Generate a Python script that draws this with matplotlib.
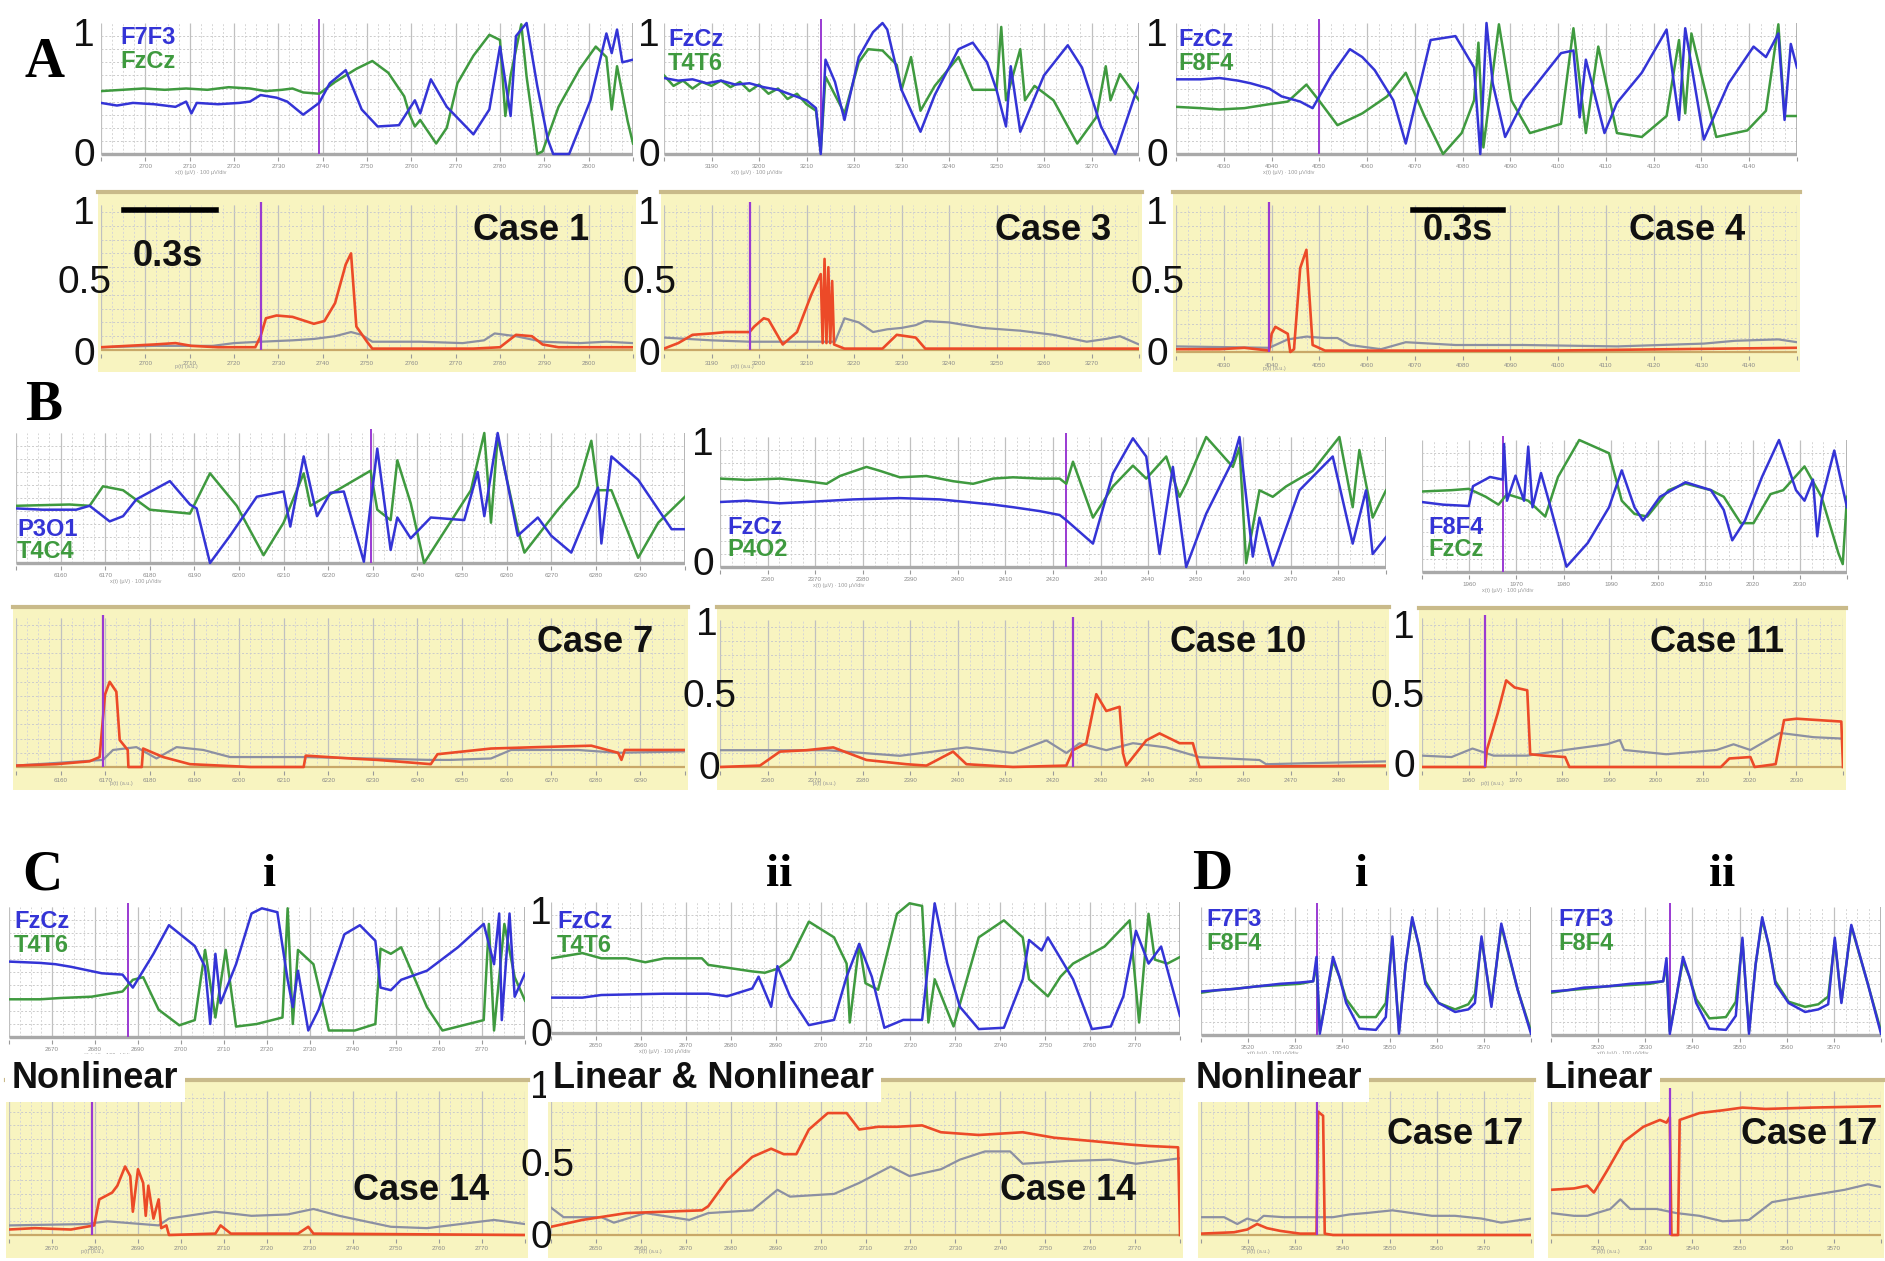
import numpy as np
import matplotlib.pyplot as plt
from matplotlib.lines import Line2D
from matplotlib.patches import Rectangle

# EEG traces: (time in % of the window, normalised amplitude 0..1)
a1_top_blue = [(0, .39), (3, .37), (6, .39), (10, .38), (14, .36), (16, .40), (17, .31), (18, .39), (22, .38),
               (26, .39), (28, .40), (30, .45), (33, .43), (35, .40), (38, .30), (41, .39), (43, .54), (46, .64),
               (49, .34), (52, .21), (56, .22), (59, .41), (60, .31), (62, .57), (65, .36), (70, .15), (73, .34),
               (75, .82), (77, .29), (78, .90), (80, 1.0), (82, .52), (84, .11), (85, 0), (88, 0), (92, .41),
               (95, .92), (96, .77), (97, .95), (98, .70), (100, .72)]
a1_top_green = [(0, .48), (4, .49), (8, .50), (12, .49), (16, .50), (20, .49), (24, .51), (28, .50), (31, .48),
                (34, .49), (36, .50), (38, .47), (41, .46), (44, .55), (48, .65), (51, .71), (54, .62), (57, .44),
                (58, .30), (59, .21), (60, .26), (61, .20), (63, .08), (65, .20), (67, .54), (70, .75), (73, .91),
                (75, .87), (76, .29), (77, .60), (79, .99), (80, .59), (82, 0), (83, .02), (86, .36), (90, .65),
                (93, .82), (95, .74), (96, .34), (97, .67), (99, .25), (100, .08)]
a2_top_blue = [(0, .58), (3, .56), (6, .57), (9, .54), (12, .56), (15, .53), (18, .54), (21, .51), (24, .49),
               (27, .45), (30, .41), (32, .35), (33, 0), (34, .72), (36, .55), (38, .26), (41, .74), (44, .93),
               (46, 1.0), (47, .95), (50, .49), (54, .17), (57, .45), (62, .80), (65, .85), (68, .70), (70, .49),
               (72, .21), (73, .67), (75, .17), (80, .60), (85, .83), (88, .66), (92, .21), (95, 0), (100, .54)]
a2_top_green = [(0, .60), (2, .52), (4, .56), (6, .50), (8, .55), (10, .52), (12, .56), (14, .51), (16, .55),
                (18, .48), (20, .53), (22, .46), (24, .50), (26, .42), (28, .46), (30, .38), (32, .33), (33, .02),
                (34, .59), (36, .45), (38, .31), (41, .70), (43, .80), (46, .79), (49, .68), (50, .49), (52, .74),
                (54, .33), (57, .52), (62, .74), (65, .49), (70, .49), (71, .97), (72, .41), (75, .80), (76, .41),
                (78, .52), (82, .41), (87, .08), (91, .28), (93, .67), (94, .41), (96, .61), (100, .41)]
a3_top_blue = [(0, .57), (4, .57), (7, .58), (10, .56), (12, .54), (15, .50), (17, .44), (20, .40), (22, .35),
               (25, .60), (28, .80), (30, .74), (32, .64), (35, .41), (37, .08), (41, .87), (45, .90), (48, .66),
               (49, 0), (50, 1.0), (51, .54), (53, .13), (56, .41), (62, .77), (64, .79), (65, .28), (66, .72),
               (69, .16), (71, .39), (75, .62), (79, .95), (81, .26), (82, .96), (85, .11), (89, .54), (93, .82),
               (95, .74), (97, .92), (98, .26), (99, .84), (100, .66)]
a3_top_green = [(0, .36), (4, .35), (7, .34), (11, .35), (15, .38), (18, .40), (21, .53), (23, .41), (26, .22),
                (30, .31), (34, .44), (37, .62), (40, .29), (43, 0), (46, .16), (48, .41), (48.7, .85), (49.5, .05),
                (52, .99), (54, .41), (57, .16), (62, .23), (64, .96), (66, .16), (68, .82), (71, .16), (75, .13),
                (79, .29), (81, .87), (82, .31), (83, .92), (87, .13), (92, .18), (95, .33), (97, .99), (98, .29),
                (100, .29)]
b1_top_blue = [(0, .42), (4, .41), (9, .41), (11, .44), (14, .32), (16, .36), (18, .49), (23, .63), (26, .45),
               (27, .42), (29, 0), (32, .21), (36, .51), (40, .55), (41, .28), (43, .82), (45, .36), (47, .54),
               (49, .55), (52, .01), (54, .88), (56, .10), (57, .35), (59, .19), (62, .35), (67, .33), (69, .70),
               (70, .36), (72, 1.0), (75, .21), (78, .35), (80, .21), (83, .08), (85, .33), (87, .58), (87.5, .15),
               (89, .82), (93, .64), (98, .26), (100, .26)]
b1_top_green = [(0, .44), (8, .45), (11, .44), (13, .59), (16, .56), (20, .41), (26, .38), (29, .69), (33, .44),
                (37, .06), (40, .31), (43, .69), (44, .44), (48, .56), (53, .71), (54, .41), (56, .33), (57, .79),
                (59, .46), (61, 0), (68, .56), (70, 1.0), (71, .31), (72, .97), (75, .26), (76, .08), (81, .41),
                (84, .59), (86, .94), (87, .56), (89, .56), (93, .04), (96, .31), (100, .51)]
b2_top_blue = [(0, .50), (4, .51), (9, .49), (13, .50), (20, .52), (27, .53), (33, .52), (37, .50), (41, .48),
               (44, .46), (48, .43), (51, .40), (52, .36), (54, .27), (56, .18), (59, .72), (62, .99), (64, .85),
               (66, .10), (68, .77), (70, 0), (73, .41), (77, .82), (78, 1.0), (80, .08), (81, .38), (83, .01),
               (87, .59), (92, .85), (95, .18), (97, .59), (98, .10), (100, .23)]
b2_top_green = [(0, .68), (4, .67), (9, .68), (13, .66), (16, .64), (18, .70), (22, .77), (24, .74), (27, .69),
                (31, .70), (35, .66), (38, .64), (41, .68), (44, .69), (48, .68), (51, .68), (52, .64), (53, .81),
                (56, .38), (59, .62), (62, .78), (64, .68), (67, .85), (69, .54), (70, .64), (73, 1.0), (77, .77),
                (78, .92), (79, .03), (81, .59), (83, .54), (85, .62), (89, .74), (93, 1.0), (95, .46), (96, .90),
                (98, .38), (100, .59)]
b3_top_blue = [(0, .53), (5, .51), (11, .50), (12, .65), (16, .72), (19, .70), (19.3, .97), (20, .54), (22, .73),
               (24, .54), (25, .95), (26, .49), (28, .75), (30, .52), (34, .04), (39, .22), (44, .49), (47, .77),
               (50, .49), (52, .39), (56, .57), (62, .68), (68, .62), (71, .47), (73, .24), (76, .39), (80, .72),
               (84, 1.0), (88, .62), (90, .54), (92, .70), (93, .27), (94, .54), (97, .92), (100, .49)]
b3_top_green = [(0, .61), (7, .62), (11, .63), (15, .57), (18, .51), (20, .59), (25, .54), (29, .42), (32, .72),
                (37, 1.0), (44, .90), (47, .54), (50, .44), (53, .42), (58, .62), (62, .67), (68, .62), (71, .57),
                (75, .37), (78, .37), (82, .59), (85, .62), (90, .80), (94, .57), (98, .14), (99, .06), (100, .57)]
ci_top_blue = [(0, .58), (6, .57), (9, .56), (12, .54), (18, .49), (22, .48), (24, .38), (26, .51), (28, .64),
               (31, .86), (36, .70), (38, .54), (39, .10), (40, .64), (41, .26), (44, .56), (47, .95), (49, .99),
               (52, .96), (54, .44), (55, .23), (56, .51), (58, .05), (60, .21), (65, .79), (68, .86), (71, .74),
               (72, .38), (74, .36), (76, .44), (81, .51), (87, .69), (92, .87), (94, .56), (95, .95), (95.5, .13),
               (97, .95), (98, .31), (100, .49)]
ci_top_green = [(0, .29), (6, .29), (10, .30), (16, .31), (22, .35), (24, .44), (26, .46), (29, .21), (33, .09),
                (36, .13), (38, .67), (40, .15), (42, .67), (44, .08), (48, .10), (53, .15), (54, .99), (55, .10),
                (56, .67), (59, .56), (62, .05), (67, .05), (71, .10), (72, .68), (74, .64), (76, .69), (81, .23),
                (84, .05), (92, .13), (93, .87), (94, .05), (96, .87), (98, .46), (100, .28)]
cii_top_blue = [(0, .27), (5, .27), (8, .29), (18, .30), (25, .30), (28, .28), (32, .34), (33, .43), (35, .20),
                (36, .51), (38, .28), (41, .06), (45, .10), (47, .43), (49, .68), (51, .43), (53, .04), (56, .10),
                (59, .10), (61, .99), (63, .53), (65, .20), (68, .03), (72, .04), (75, .41), (76, .71), (78, .63),
                (79, .73), (83, .41), (86, .03), (89, .05), (91, .28), (93, .78), (95, .53), (97, .66), (100, .13)]
cii_top_green = [(0, .57), (5, .61), (8, .57), (12, .57), (15, .54), (18, .57), (24, .57), (25, .52), (32, .47),
                 (34, .46), (36, .49), (38, .56), (41, .85), (45, .73), (47, .53), (47.5, .08), (49, .68), (50, .38),
                 (52, .33), (55, .91), (57, .99), (59, .97), (60, .08), (61, .41), (64, .05), (68, .73), (72, .86),
                 (75, .73), (76, .41), (79, .28), (81, .43), (83, .53), (88, .66), (92, .86), (93.5, .08), (95, .91),
                 (96, .56), (98, .53), (100, .58)]
di_top_blue = [(0, .34), (5, .35), (10, .36), (17, .38), (24, .40), (30, .41), (34, .42), (35, .61), (36, .01),
               (38, .30), (40, .61), (42, .45), (44, .25), (48, .05), (53, .04), (56, .14), (58, .77), (60, .01),
               (62, .55), (64, .92), (66, .70), (68, .40), (72, .25), (77, .18), (81, .20), (83, .25), (85, .77),
               (88, .22), (91, .87), (96, .35), (100, .01)]
di_top_green = [(0, .33), (5, .35), (10, .36), (17, .38), (24, .39), (30, .40), (34, .42), (35, .55), (36, .03),
                (38, .30), (40, .58), (42, .45), (44, .28), (48, .14), (53, .14), (56, .25), (58, .75), (60, .03),
                (62, .55), (64, .90), (66, .70), (68, .42), (72, .25), (77, .20), (81, .24), (83, .32), (85, .75),
                (88, .24), (91, .85), (96, .35), (100, .03)]
dii_top_blue = [(0, .34), (5, .35), (10, .37), (17, .38), (24, .40), (30, .41), (34, .42), (35, .60), (36, .01),
                (38, .30), (40, .61), (42, .45), (44, .25), (48, .05), (53, .04), (56, .15), (58, .76), (60, .01),
                (62, .55), (64, .92), (66, .70), (68, .40), (72, .25), (77, .18), (81, .20), (84, .24), (86, .76),
                (88, .25), (91, .86), (96, .40), (100, .01)]
dii_top_green = [(0, .33), (5, .35), (10, .36), (17, .38), (24, .39), (30, .40), (34, .42), (35, .55), (36, .03),
                 (38, .30), (40, .58), (42, .45), (44, .28), (48, .13), (53, .14), (56, .26), (58, .74), (60, .03),
                 (62, .55), (64, .90), (66, .70), (68, .42), (72, .26), (77, .22), (81, .24), (84, .30), (86, .74),
                 (88, .26), (91, .85), (96, .40), (100, .03)]

# synchronisation indices (red: nonlinear, gray: linear)
a1_bot_red = [(0, .02), (5, .03), (10, .04), (14, .05), (17, .03), (22, .02), (29, .02), (30, .10), (31, .23),
              (33, .25), (36, .24), (40, .19), (42, .21), (44, .34), (46, .62), (47, .70), (48, .17), (50, .06),
              (51, .01), (60, .01), (70, .01), (75, .02), (78, .11), (81, .10), (83, .04), (86, .02), (100, .02)]
a1_bot_gray = [(0, .02), (10, .03), (21, .03), (25, .05), (30, .06), (36, .07), (40, .08), (44, .10), (47, .13),
               (49, .11), (51, .06), (60, .06), (68, .05), (72, .07), (74, .12), (78, .10), (83, .06), (90, .05),
               (95, .06), (100, .05)]
a2_bot_red = [(0, .01), (3, .05), (6, .11), (10, .12), (13, .13), (18, .13), (19, .17), (21, .23), (22, .22),
              (25, .04), (28, .13), (31, .40), (33, .55), (33.4, .05), (33.8, .66), (34.2, .05), (34.6, .60),
              (35, .05), (35.4, .50), (35.8, .04), (38, .01), (46, .01), (49, .11), (53, .09), (55, .01), (100, .01)]
a2_bot_gray = [(0, .09), (10, .07), (18, .06), (30, .06), (36, .06), (38, .23), (41, .20), (44, .13), (47, .15),
               (50, .16), (53, .18), (55, .21), (60, .20), (67, .16), (75, .14), (82, .11), (89, .06), (93, .08),
               (96, .10), (100, .04)]
a3_bot_red = [(0, .02), (7, .02), (11, .03), (15, .01), (15.4, .13), (16, .18), (18, .13), (18.4, 0), (19, .02),
              (20, .60), (21, .73), (22, .05), (24, .01), (60, .01), (100, .03)]
a3_bot_gray = [(0, .04), (15, .03), (18, .09), (21, .11), (24, .10), (26, .10), (28, .05), (33, .02), (37, .07),
               (45, .05), (56, .05), (71, .04), (85, .06), (90, .08), (97, .09), (100, .07)]
b1_bot_red = [(0, .01), (6, .02), (11, .04), (12.5, .07), (13.3, .51), (14, .60), (15, .53), (15.5, .19),
              (16.7, .12), (16.8, 0), (18.8, 0), (19, .13), (22, .07), (26, .02), (35, 0), (43, 0), (43.3, .08),
              (50, .06), (54, .05), (62, .02), (63, .09), (67, .11), (71, .13), (78, .14), (86, .15), (90, .10),
              (90.5, .05), (91, .12), (100, .12)]
b1_bot_gray = [(0, .01), (13, .05), (14.5, .12), (18, .14), (21, .06), (24, .14), (28, .12), (32, .07), (43, .07),
               (62, .05), (65, .05), (71, .06), (74, .12), (84, .12), (90, .10), (100, .11)]
b2_bot_red = [(0, 0), (6, .01), (9, .11), (13, .12), (17, .14), (22, .05), (28, .02), (31, .01), (35, .11),
              (37, .02), (44, 0), (52, .01), (53, .12), (55, .17), (56.5, .52), (58, .40), (60, .43), (60.5, .10),
              (61, .01), (64, .19), (66, .24), (69, .17), (71, .17), (72, 0), (100, .01)]
b2_bot_gray = [(0, .12), (16, .12), (27, .08), (37, .14), (44, .10), (49, .19), (52, .10), (54, .17), (58, .12),
               (62, .17), (67, .14), (72, .07), (81, .05), (82, .02), (100, .04)]
b3_bot_red = [(0, 0), (15, 0), (15.4, .12), (18, .38), (20, .61), (22, .56), (25, .54), (25.7, .09), (29, .08),
              (34, .07), (35, 0), (71, 0), (73, .06), (78, .07), (79, 0), (84, .02), (86, .33), (89, .34),
              (99.6, .32), (100, 0)]
b3_bot_gray = [(0, .08), (7, .07), (12, .13), (17, .08), (25, .08), (34, .12), (39, .14), (44, .16), (47, .19),
               (48, .12), (58, .09), (70, .12), (74, .16), (78, .12), (85, .24), (93, .21), (100, .20)]
ci_bot_red = [(0, .04), (5, .05), (12, .04), (15, .06), (16.5, .07), (17.5, .26), (20, .31), (21, .36), (22.5, .50),
              (23.5, .43), (24, .17), (25, .48), (26, .38), (26.5, .14), (27, .36), (28, .12), (29, .26),
              (29.5, .05), (30.5, .07), (31, 0), (40, .01), (41, .07), (43, .01), (56, .01), (58, .06), (59, .01),
              (100, 0)]
ci_bot_gray = [(0, .07), (15, .08), (19, .10), (29, .07), (31, .12), (40, .17), (47, .14), (54, .15), (59, .19),
               (64, .14), (74, .06), (81, .05), (94, .11), (100, .08)]
cii_bot_red = [(0, .06), (5, .11), (12, .16), (18, .17), (24, .18), (25, .21), (28, .40), (32, .57), (35, .63),
               (37, .59), (39, .59), (41, .77), (44, .89), (47, .89), (49, .77), (52, .79), (55, .79), (59, .80),
               (62, .75), (68, .73), (75, .75), (80, .71), (85, .69), (92, .66), (95, .65), (99.7, .64), (100, 0)]
cii_bot_gray = [(0, .20), (2, .13), (8, .13), (10, .09), (15, .16), (22, .11), (25, .16), (32, .18), (36, .33),
                (38, .28), (45, .30), (49, .38), (54, .50), (57, .43), (62, .48), (65, .55), (69, .61), (73, .61),
                (75, .52), (82, .54), (89, .55), (93, .52), (100, .56)]
di_bot_red = [(0, .01), (10, .02), (14, .04), (17, .08), (20, .05), (24, .03), (30, .01), (35, .01), (35.5, .90),
              (37, .87), (37.5, .01), (40, 0), (100, 0)]
di_bot_gray = [(0, .13), (7, .13), (11, .08), (14, .12), (17, .10), (19, .14), (25, .13), (30, .13), (40, .13),
               (45, .15), (50, .16), (58, .18), (64, .16), (70, .14), (77, .14), (85, .12), (91, .09), (100, .12)]
dii_bot_red = [(0, .33), (7, .34), (11, .36), (13, .31), (17, .47), (22, .68), (28, .79), (33, .84), (35, .82),
               (36, .86), (36.5, 0), (38.5, 0), (39, .84), (45, .89), (52, .91), (58, .93), (65, .92), (79, .93),
               (100, .94)]
dii_bot_gray = [(0, .16), (7, .14), (11, .14), (18, .19), (21, .26), (24, .19), (32, .19), (38, .16), (45, .14),
                (52, .10), (60, .11), (67, .24), (79, .29), (89, .33), (96, .37), (100, .35)]

W, H = 1885, 1261
BLUE = '#3434d6'
GREEN = '#3f9a3f'
RED = '#ec4a28'
GRAY = '#8c90a2'
PURPLE = '#9a3ad2'
YELLOW = '#f8f4c0'
TAN = '#c9ba8a'
SANS = 'Liberation Sans'
SERIF = 'Liberation Serif'

fig = plt.figure(figsize=(W / 100, H / 100), dpi=100)


def ftext(x, y, s, **kw):
    return fig.text(x / W, 1 - y / H, s, **kw)


def make_axes(x0, x1, y_one, y_zero, lo, hi):
    k = y_zero - y_one
    top = y_zero - hi * k
    bot = y_zero - lo * k
    ax = fig.add_axes([x0 / W, 1 - bot / H, (x1 - x0) / W, (bot - top) / H])
    ax.set_xlim(0, 100)
    ax.set_ylim(lo, hi)
    ax.set_facecolor('none')
    for s in ax.spines.values():
        s.set_visible(False)
    ax.set_yticks([])
    return ax


def draw_grid(ax, n_major, top, t0, step):
    major = np.linspace(0, 100, n_major + 1)
    minor = np.linspace(0, 100, n_major * 4 + 1)
    ax.vlines(minor, 0, top, colors='#d6d6d6', lw=0.7, linestyles=(0, (2, 2)), zorder=0)
    ax.vlines(major, 0, top, colors='#c0c0c0', lw=0.9, zorder=0)
    ax.hlines(np.arange(0.1, top, 0.1), 0, 100, colors='#cbcbcb', lw=0.7,
              linestyles=(0, (2, 2)), zorder=0)
    ax.set_xticks(major)
    # end labels sit under the large value labels, so they are left blank
    labels = [''] + [str(t0 + i * step) for i in range(1, n_major)] + ['']
    ax.set_xticklabels(labels, fontsize=4.5, color='#8a8a8a', family=SANS)
    ax.tick_params(axis='x', length=3, width=0.8, color='#9a9a9a', pad=2)


def trace(ax, pts, color, z, lw=1.8):
    x, y = zip(*pts)
    ax.plot(x, y, color=color, lw=lw, zorder=z, solid_joinstyle='round')


# top row of each pair: raw channel pair
top_panels = [
    (101, 633, 23, 154, a1_top_blue, a1_top_green, 41, 12, 2690),
    (664, 1139, 23, 154, a2_top_blue, a2_top_green, 33, 10, 3180),
    (1176, 1797, 23, 154, a3_top_blue, a3_top_green, 23, 13, 4020),
    (16, 685, 433, 563, b1_top_blue, b1_top_green, 53, 15, 6150),
    (720, 1386, 437, 567, b2_top_blue, b2_top_green, 52, 14, 2350),
    (1422, 1847, 440, 572, b3_top_blue, b3_top_green, 19, 9, 1950),
    (9, 525, 907, 1037, ci_top_blue, ci_top_green, 23, 12, 2660),
    (551, 1180, 902, 1033, cii_top_blue, cii_top_green, None, 14, 2640),
    (1201, 1531, 907, 1035, di_top_blue, di_top_green, 35, 7, 3510),
    (1551, 1881, 907, 1035, dii_top_blue, dii_top_green, 36, 7, 3510),
]

for x0, x1, y1, y0, blue, green, cur, nmaj, t0 in top_panels:
    ax = make_axes(x0, x1, y1, y0, -0.02, 1.03)
    draw_grid(ax, nmaj, 1.0, t0, 10)
    ax.hlines(0, 0, 100, colors='#a9a9a9', lw=2.4, zorder=1)
    ax.vlines(100, 0, 1.0, colors='#a9a9a9', lw=1.2, zorder=1)
    if cur is not None:
        ax.vlines(cur, 0, 1.03, colors=PURPLE, lw=1.4, zorder=2)
    trace(ax, green, GREEN, 3)
    trace(ax, blue, BLUE, 4)
    ftext(x0 + 0.14 * (x1 - x0), y0 + 20, 'x(t) (µV) · 100 µV/div', fontsize=4, color='#9a9a9a', family=SANS)

# bottom row of each pair: synchronisation indices on yellow
bottom_panels = [
    (101, 633, 192, 212, 350, 372, a1_bot_red, a1_bot_gray, 30, 12, 2690),
    (664, 1139, 192, 212, 350, 372, a2_bot_red, a2_bot_gray, 18, 10, 3180),
    (1176, 1797, 192, 212, 352, 372, a3_bot_red, a3_bot_gray, 15, 13, 4020),
    (16, 685, 607, 625, 767, 790, b1_bot_red, b1_bot_gray, 13, 15, 6150),
    (720, 1386, 607, 627, 767, 790, b2_bot_red, b2_bot_gray, 53, 14, 2350),
    (1422, 1843, 608, 625, 767, 790, b3_bot_red, b3_bot_gray, 15, 9, 1950),
    (9, 525, 1080, 1098, 1235, 1258, ci_bot_red, ci_bot_gray, 16, 12, 2660),
    (551, 1180, 1080, 1098, 1235, 1258, cii_bot_red, cii_bot_gray, None, 14, 2640),
    (1201, 1531, 1080, 1098, 1235, 1258, di_bot_red, di_bot_gray, 35, 7, 3510),
    (1551, 1881, 1080, 1098, 1235, 1258, dii_bot_red, dii_bot_gray, 36, 7, 3510),
]

for x0, x1, yt, y1, y0, ye, red, gray, cur, nmaj, t0 in bottom_panels:
    fig.add_artist(Rectangle(((x0 - 3) / W, 1 - ye / H), (x1 - x0 + 6) / W, (ye - yt) / H,
                             transform=fig.transFigure, facecolor=YELLOW, edgecolor='none', zorder=-5))
    fig.add_artist(Line2D([(x0 - 3) / W, (x1 + 3) / W], [1 - yt / H] * 2, color=TAN, lw=3, zorder=1))
    ax = make_axes(x0, x1, y1, y0, -0.03, 1.07)
    draw_grid(ax, nmaj, 1.05, t0, 10)
    ax.hlines(0, 0, 100, colors='#c9a868', lw=1.6, zorder=1)
    if cur is not None:
        ax.vlines(cur, 0, 1.07, colors=PURPLE, lw=1.6, zorder=5)
    trace(ax, gray, GRAY, 3, lw=1.6)
    trace(ax, red, RED, 4, lw=1.9)
    ftext(x0 + 0.14 * (x1 - x0), y0 + 18, 'p(t) (a.u.)', fontsize=4, color='#9a9a9a', family=SANS)

# axis value labels
num = dict(fontsize=28, family=SANS, ha='center', va='center', color='#111111')
for x in (84, 649, 1157):
    ftext(x, 36, '1', **num)
    ftext(x, 156, '0', **num)
    ftext(x, 214, '1', **num)
    ftext(x, 283, '0.5', **num)
    ftext(x, 355, '0', **num)
ftext(703, 445, '1', **num)
ftext(703, 565, '0', **num)
ftext(707, 625, '1', **num)
ftext(709, 697, '0.5', **num)
ftext(709, 769, '0', **num)
ftext(1404, 628, '1', **num)
ftext(1397, 697, '0.5', **num)
ftext(1404, 767, '0', **num)
ftext(541, 914, '1', **num)
ftext(541, 1036, '0', **num)
ftext(541, 1088, '1', **num)
ftext(547, 1166, '0.5', **num)
ftext(541, 1238, '0', **num)

# panel letters
big = dict(fontsize=40, family=SERIF, weight='bold', ha='center', va='center')
ftext(44, 63, 'A', **big)
ftext(44, 406, 'B', **big)
ftext(42, 875, 'C', **big)
ftext(1212, 875, 'D', **big)
sub = dict(fontsize=34, family=SERIF, weight='bold', ha='center', va='center')
ftext(270, 875, 'i', **sub)
ftext(779, 875, 'ii', **sub)
ftext(1362, 875, 'i', **sub)
ftext(1722, 875, 'ii', **sub)

# channel names
leg = dict(fontsize=17, family=SANS, weight='bold', ha='left', va='center')
channel_names = [
    (120, 38, 'F7F3', 'FzCz'), (668, 40, 'FzCz', 'T4T6'), (1178, 40, 'FzCz', 'F8F4'),
    (17, 529, 'P3O1', 'T4C4'), (727, 527, 'FzCz', 'P4O2'), (1428, 527, 'F8F4', 'FzCz'),
    (14, 922, 'FzCz', 'T4T6'), (557, 922, 'FzCz', 'T4T6'),
    (1206, 920, 'F7F3', 'F8F4'), (1558, 920, 'F7F3', 'F8F4'),
]
for x, y, nb, ng in channel_names:
    ftext(x, y, nb, color=BLUE, **leg)
    ftext(x, y + 23, ng, color=GREEN, **leg)

# case labels
case = dict(fontsize=26, family=SANS, weight='bold', ha='center', va='center', color='#111111')
ftext(531, 231, 'Case 1', **case)
ftext(1053, 231, 'Case 3', **case)
ftext(1687, 231, 'Case 4', **case)
ftext(595, 643, 'Case 7', **case)
ftext(1238, 643, 'Case 10', **case)
ftext(1717, 643, 'Case 11', **case)
ftext(421, 1190, 'Case 14', **case)
ftext(1068, 1190, 'Case 14', **case)
ftext(1455, 1134, 'Case 17', **case)
ftext(1809, 1134, 'Case 17', **case)

# 0.3 s scale bars
fig.add_artist(Line2D([124 / W, 216 / W], [1 - 210 / H] * 2, color='black', lw=4, zorder=6))
ftext(168, 257, '0.3s', **case)
fig.add_artist(Line2D([1413 / W, 1503 / W], [1 - 210 / H] * 2, color='black', lw=4, zorder=6))
ftext(1458, 231, '0.3s', **case)

# analysis type labels over the index panels
tag = dict(fontsize=26, family=SANS, weight='bold', ha='left', va='center', color='#111111', zorder=8,
           bbox=dict(facecolor='white', edgecolor='none', pad=5))
ftext(12, 1078, 'Nonlinear', **tag)
ftext(553, 1078, 'Linear & Nonlinear', **tag)
ftext(1196, 1078, 'Nonlinear', **tag)
ftext(1545, 1078, 'Linear', **tag)

fig.savefig('out.png', dpi=100)
